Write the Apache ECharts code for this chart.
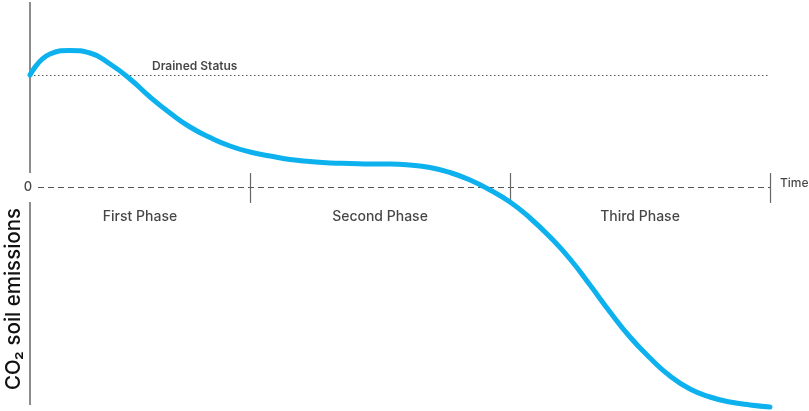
<!DOCTYPE html>
<html>
<head>
<meta charset="utf-8">
<script src="https://cdn.jsdelivr.net/npm/echarts@6/dist/echarts.min.js"></script>
<style>
  html, body { margin: 0; padding: 0; background: #fff; }
  #chart { width: 809px; height: 411px; }
</style>
</head>
<body>
<div id="chart"></div>
<script>
// ---- Data ----
const timeX = [0,2,4,6,8,10,12,14,16,18,20,22,24,26,28,30,32,34,36,38,40,42,44,46,48,50,52,54,56,58,60,62,64,66,68,70,72,74];
const emissions = [112,133,136.5,134,123,108,90,74,60,49.5,41,35,31,27.5,25.5,24,23.5,23,23,22,19.5,14.5,7,-3,-15,-31,-50,-72,-98,-125,-150,-171,-189,-202,-210,-215,-218,-220];
const phaseBounds = [0, 22, 48, 74];
const phaseNames = ['First Phase', 'Second Phase', 'Third Phase'];
const drainedLevel = 112;
const drainedLabel = 'Drained Status';
const zeroLabel = '0';
const timeLabel = 'Time';
const yTitle = 'CO₂ soil emissions';

const FONT = 'Inter, "Noto Sans", sans-serif';

const curve = timeX.map((x, i) => [x, emissions[i]]);

const phaseLabelData = phaseNames.map((n, i) => [(phaseBounds[i] + phaseBounds[i + 1]) / 2, -30, n]);

const tickMarks = phaseBounds.slice(1).map(b => [{ coord: [b, 14] }, { coord: [b, -16] }]);

const textSeries = (data, position, size, weight) => ({
  type: 'scatter',
  symbolSize: 0,
  silent: true,
  clip: false,
  data: data,
  label: {
    show: true, position: position, distance: 0,
    formatter: p => p.data[2],
    fontFamily: FONT, fontSize: size, fontWeight: weight, color: '#161616'
  }
});

const chart = echarts.init(document.getElementById('chart'));
chart.setOption({
  animation: false,
  grid: { left: 30, right: 39, top: 2, bottom: 4 },
  xAxis: { type: 'value', min: 0, max: 74, show: false },
  yAxis: { type: 'value', min: -220, max: 185, show: false },
  graphic: [{
    type: 'text',
    x: 14, y: 299,
    rotation: Math.PI / 2,
    style: {
      text: yTitle,
      font: '500 20.5px ' + FONT,
      fill: '#111',
      textAlign: 'center',
      textVerticalAlign: 'middle'
    }
  }],
  series: [
    {
      type: 'line',
      data: [],
      clip: false,
      markLine: {
        silent: true,
        symbol: ['none', 'none'],
        label: { show: false },
        data: [
          [{ coord: [0, 185], lineStyle: { color: '#8c8c8c', width: 2, type: 'solid' } }, { coord: [0, 14] }],
          [{ coord: [0, -15], lineStyle: { color: '#8c8c8c', width: 2, type: 'solid' } }, { coord: [0, -218] }],
          [{ coord: [0.8, 0], lineStyle: { color: '#555', width: 1, type: [6, 4] } }, { coord: [74, 0] }],
          [{ coord: [0, drainedLevel], lineStyle: { color: '#555', width: 1, type: [1.5, 2.5] } }, { coord: [74, drainedLevel] }]
        ].concat(tickMarks.map(t => [
          Object.assign({ lineStyle: { color: '#666', width: 1.2, type: 'solid' } }, t[0]), t[1]
        ]))
      }
    },
    {
      type: 'line',
      data: curve,
      smooth: 0.5,
      clip: false,
      showSymbol: false,
      lineStyle: { color: '#0db1ee', width: 5, cap: 'round' },
      z: 5
    },
    textSeries(phaseLabelData, 'inside', 14, 500),
    textSeries([[12.2, drainedLevel + 9, drainedLabel]], 'right', 12, 600),
    textSeries([[-0.2, 0, zeroLabel]], 'inside', 13, 500),
    textSeries([[75, 4, timeLabel]], 'right', 12, 500)
  ]
});
</script>
</body>
</html>
